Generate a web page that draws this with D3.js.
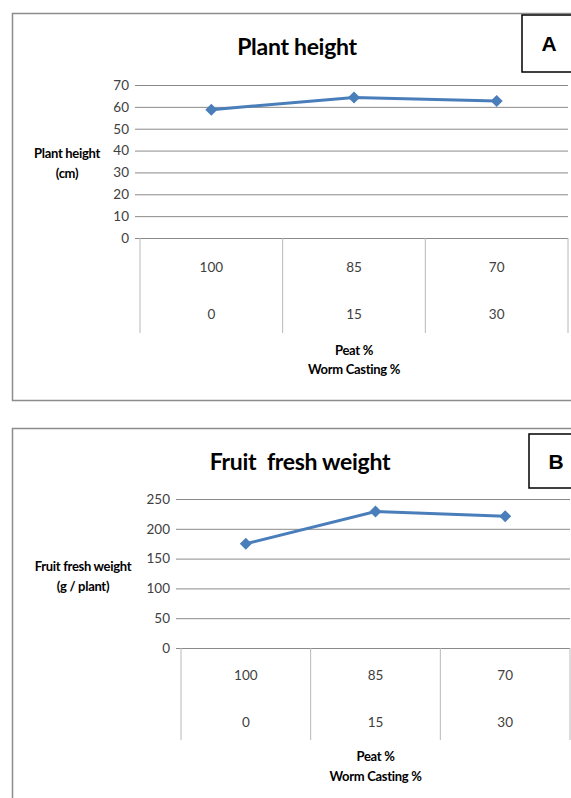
<!DOCTYPE html>
<html>
<head>
<meta charset="utf-8">
<script src="https://cdn.jsdelivr.net/npm/d3@7"></script>
<style>
  body { margin: 0; background: #fff; }
  svg { display: block; font-family: Lato, "Open Sans", sans-serif; }
</style>
</head>
<body>
<div class="canvas"></div>
<script>
// data
var peatPct = ["100", "85", "70"];
var wormPct = ["0", "15", "30"];
var plantHeight = [58.7, 64.3, 62.7];
var fruitWeight = [175, 229, 221];
var heightTicks = [0, 10, 20, 30, 40, 50, 60, 70];
var weightTicks = [0, 50, 100, 150, 200, 250];

var svg = d3.select(".canvas")
  .append("svg")
  .attr("width", 571)
  .attr("height", 798);

function panel(cfg) {
  var g = svg.append("g");

  // outer frame
  g.append("rect")
    .attr("x", 12.5).attr("y", cfg.top + 0.5)
    .attr("width", 580).attr("height", cfg.frameH)
    .attr("fill", "none").attr("stroke", "#8c8c8c").attr("stroke-width", 1.5);

  // letter box
  g.append("rect")
    .attr("x", cfg.box[0]).attr("y", cfg.box[1])
    .attr("width", 60).attr("height", cfg.box[2])
    .attr("fill", "#fff").attr("stroke", "#000").attr("stroke-width", 1.5);
  g.append("text")
    .attr("x", cfg.box[0] + 27).attr("y", cfg.box[1] + cfg.box[2] / 2)
    .attr("dy", "0.36em")
    .attr("text-anchor", "middle")
    .attr("font-family", "Liberation Sans, Arial, sans-serif")
    .attr("font-weight", "bold").attr("font-size", 21)
    .text(cfg.letter);

  // title
  g.append("text")
    .attr("x", cfg.titleX).attr("y", cfg.titleY)
    .attr("dy", "0.35em")
    .attr("text-anchor", "middle")
    .attr("font-weight", "bold").attr("font-size", 23).attr("letter-spacing", -0.3)
    .style("white-space", "pre")
    .text(cfg.title);

  var x = d3.scaleBand().domain(peatPct).range([cfg.x0, cfg.x1]).padding(0);
  var y = d3.scaleLinear().domain([0, d3.max(cfg.ticks)]).range([cfg.y0, cfg.y1]);

  // gridlines
  g.append("g")
    .attr("transform", "translate(" + cfg.x0 + ",0)")
    .call(d3.axisLeft(y).tickValues(cfg.ticks).tickSize(-(cfg.x1 - cfg.x0)).tickFormat(""))
    .call(function(a) {
      a.select(".domain").remove();
      a.selectAll("line").attr("stroke", "#8a8a8a").attr("stroke-width", 1);
    });

  // y axis
  g.append("g")
    .attr("transform", "translate(" + cfg.x0 + ",0)")
    .call(d3.axisLeft(y).tickValues(cfg.ticks).tickSize(5).tickPadding(6))
    .call(function(a) {
      a.select(".domain").remove();
      a.selectAll("line").attr("stroke", "#8a8a8a");
      a.selectAll("text")
        .attr("font-family", "Lato, sans-serif")
        .attr("font-size", 13.5).attr("fill", "#404040");
    });

  // category separators
  var edges = peatPct.map(function(d) { return x(d); }).concat([cfg.x1]);
  g.selectAll(".sep")
    .data(edges)
    .enter()
    .append("line")
    .attr("class", "sep")
    .attr("x1", function(d) { return d; }).attr("x2", function(d) { return d; })
    .attr("y1", cfg.y0).attr("y2", cfg.sepBottom)
    .attr("stroke", "#b8b8b8").attr("stroke-width", 1);

  // two rows of category labels
  g.selectAll(".peat")
    .data(peatPct)
    .enter()
    .append("text")
    .attr("x", function(d) { return x(d) + x.bandwidth() / 2; })
    .attr("y", cfg.row1).attr("dy", "0.35em")
    .attr("text-anchor", "middle")
    .attr("font-size", 13.5).attr("fill", "#404040")
    .text(function(d) { return d; });
  g.selectAll(".worm")
    .data(wormPct)
    .enter()
    .append("text")
    .attr("x", function(d, i) { return x(peatPct[i]) + x.bandwidth() / 2; })
    .attr("y", cfg.row2).attr("dy", "0.35em")
    .attr("text-anchor", "middle")
    .attr("font-size", 13.5).attr("fill", "#404040")
    .text(function(d) { return d; });

  // axis titles
  var xc = (cfg.x0 + cfg.x1) / 2;
  [["Peat %", cfg.xt1], ["Worm Casting %", cfg.xt2]].forEach(function(t) {
    g.append("text")
      .attr("x", xc).attr("y", t[1]).attr("dy", "0.35em")
      .attr("text-anchor", "middle")
      .attr("font-weight", "bold").attr("font-size", 13).attr("letter-spacing", -0.3)
      .text(t[0]);
  });
  cfg.yTitle.forEach(function(t, i) {
    g.append("text")
      .attr("x", cfg.ytX).attr("y", cfg.ytY + i * 20).attr("dy", "0.35em")
      .attr("text-anchor", "middle")
      .attr("font-weight", "bold").attr("font-size", 13).attr("letter-spacing", -0.3)
      .text(t);
  });

  // series
  var pts = cfg.values.map(function(v, i) {
    return [x(peatPct[i]) + x.bandwidth() / 2, y(v)];
  });
  g.append("path")
    .attr("d", d3.line()(pts))
    .attr("fill", "none")
    .attr("stroke", "#4a7ebb")
    .attr("stroke-width", 3);
  g.selectAll(".mark")
    .data(pts)
    .enter()
    .append("path")
    .attr("class", "mark")
    .attr("transform", function(d) { return "translate(" + d[0] + "," + d[1] + ")"; })
    .attr("d", "M0,-6L6,0L0,6L-6,0Z")
    .attr("fill", "#4a7ebb");
}

panel({
  top: 13, frameH: 387, box: [522, 15, 57], letter: "A",
  title: "Plant height", titleX: 297, titleY: 47,
  x0: 140, x1: 568, y0: 238, y1: 85, ticks: heightTicks, values: plantHeight,
  sepBottom: 333, row1: 267, row2: 314, xt1: 350, xt2: 369,
  yTitle: ["Plant height", "(cm)"], ytX: 67, ytY: 153
});

panel({
  top: 428, frameH: 400, box: [529, 434, 54], letter: "B",
  title: "Fruit  fresh weight", titleX: 300, titleY: 462,
  x0: 181, x1: 570, y0: 648, y1: 499, ticks: weightTicks, values: fruitWeight,
  sepBottom: 740, row1: 675, row2: 722, xt1: 756, xt2: 776,
  yTitle: ["Fruit fresh weight", "(g / plant)"], ytX: 83, ytY: 566
});
</script>
</body>
</html>
